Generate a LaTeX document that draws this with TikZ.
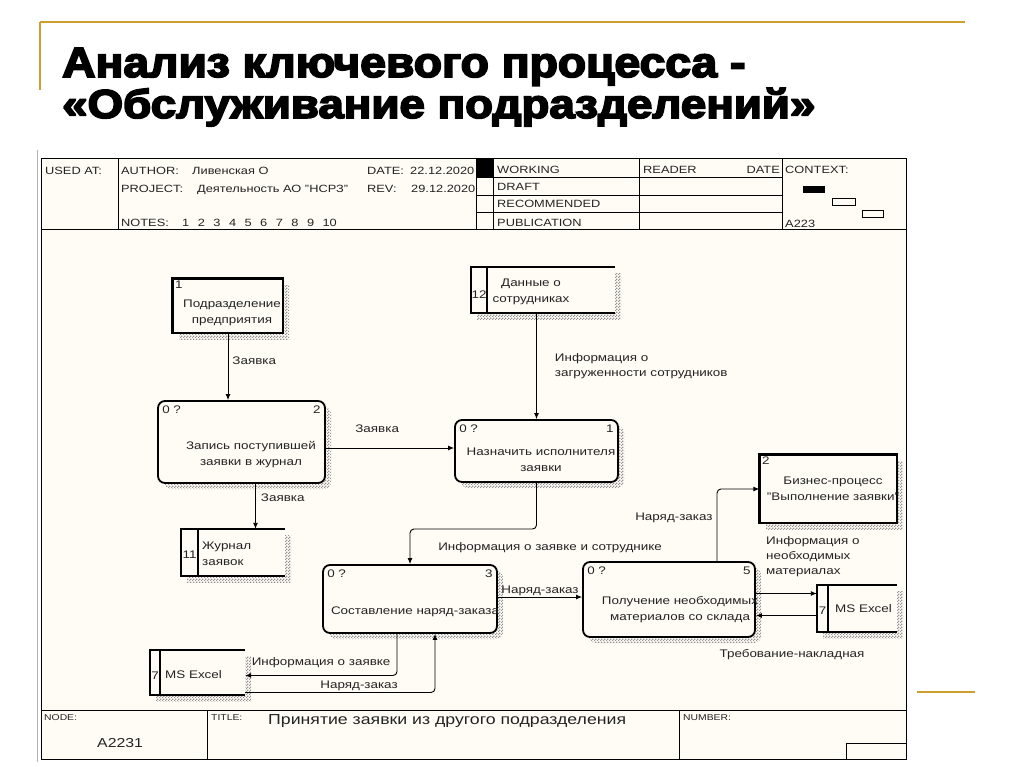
\documentclass[tikz,border=0pt]{standalone}
\usepackage{fontspec}
\setmainfont{Liberation Sans}[FakeStretch=1.22]
\newfontfamily\titlefont{Liberation Sans}[FakeBold=4]
\usetikzlibrary{arrows.meta,patterns,shadows,positioning,calc}
\definecolor{paper}{RGB}{255,252,246}
\definecolor{gold}{RGB}{205,160,45}
\definecolor{ink}{RGB}{35,35,35}

% fine checker used for the box shadows
\pgfdeclarepatternformonly{finecheck}{\pgfqpoint{0pt}{0pt}}{\pgfqpoint{3pt}{3pt}}{\pgfqpoint{3pt}{3pt}}{%
  \pgfpathrectangle{\pgfqpoint{0pt}{0pt}}{\pgfqpoint{1.5pt}{1.5pt}}%
  \pgfpathrectangle{\pgfqpoint{1.5pt}{1.5pt}}{\pgfqpoint{1.5pt}{1.5pt}}%
  \pgfusepath{fill}}

\tikzset{
  hatch/.style={drop shadow={shadow xshift=6pt, shadow yshift=-6pt, opacity=1, pattern=finecheck, pattern color=gray!85}},
  act/.style={draw=black, line width=1.8pt, rounded corners=7pt, fill=paper, hatch, inner sep=0},
  ent/.style={draw=black, line width=1.3pt, fill=paper, hatch, inner sep=0},
  store/.style={fill=paper, hatch, inner sep=0},
  boxtext/.style={align=center, inner sep=0, font=\fontsize{11}{16}\selectfont},
  num/.style={inner sep=2.5pt, font=\fontsize{11}{13}\selectfont},
  actnum/.style={inner sep=0, font=\fontsize{11}{13}\selectfont},
  lbl/.style={inner sep=1pt, font=\fontsize{11}{15}\selectfont},
  hd/.style={anchor=base west, inner sep=0, font=\fontsize{10.5}{12}\selectfont},
  flow/.style={draw=black, line width=0.9pt, -{Latex[length=6pt,width=5pt]}}
}
% open-ended data store: #1 node, #2 offset of the inner bar
\newcommand\storelines[2]{%
  \draw[line width=1.6pt] (#1.north east) -- (#1.north west) -- (#1.south west) -- (#1.south east);
  \draw[line width=1.6pt] ([xshift=#2]#1.north west) -- ([xshift=#2]#1.south west);}

\begin{document}
\begin{tikzpicture}[x=1pt,y=-1pt, text=ink]
\useasboundingbox (0,0) rectangle (1024,767);
\fill[white] (0,0) rectangle (1024,767);

% slide decoration and title
\draw[gold, line width=2pt] (40,22) -- (965,22);
\draw[gold, line width=2pt] (40,22) -- (40,90);
\draw[gold, line width=2pt] (917,692) -- (975,692);
\node[anchor=base west, inner sep=0, text=black] (ttl1) at (62,77)
  {\resizebox{683pt}{29pt}{\titlefont\bfseries Анализ ключевого процесса -}};
\node[anchor=base west, inner sep=0, text=black] (ttl2) at (62,118)
  {\resizebox{753pt}{30pt}{\titlefont\bfseries «Обслуживание подразделений»}};

% frame
\draw[gray!60, line width=1pt] (37,150) -- (37,762);
\fill[paper] (41,159) rectangle (906,759);
\draw[line width=1pt] (41,159) rectangle (906,759);
\draw (41,229) -- (906,229);
\foreach \x in {118,476,493,639,782} \draw (\x,159) -- (\x,229);
\foreach \y in {177,195,212} \draw (476,\y) -- (782,\y);
\draw (41,710) -- (906,710);
\draw (207,710) -- (207,759);
\draw (679,710) -- (679,759);
\draw (846,743) rectangle (906,759);

% header
\node[hd] (usedat) at (45,175) {USED AT:};
\node[hd] (author) at (121,175) {AUTHOR:};
\node[hd] (authorv) at (192,175) {Ливенская О};
\node[hd] (date) at (367,175) {DATE:};
\node[hd] (datev) at (410,175) {22.12.2020};
\node[hd] (project) at (121,193) {PROJECT:};
\node[hd] (projectv) at (197,193) {Деятельность АО "НСРЗ"};
\node[hd] (rev) at (367,193) {REV:};
\node[hd] (revv) at (411,193) {29.12.2020};
\node[hd] (notes) at (121,226) {NOTES:};
\foreach \n [count=\i] in {1,...,10}
  \node[hd] (note\n) at ({182+15.6*(\i-1)},226) {\n};
\fill (476,159) rectangle (493,177);
\node[hd] (working) at (497,174) {WORKING};
\node[hd] (draft) at (497,191) {DRAFT};
\node[hd] (recom) at (497,208) {RECOMMENDED};
\node[hd] (publ) at (497,226) {PUBLICATION};
\node[hd] (reader) at (643,174) {READER};
\node[hd, anchor=base east] (rdate) at (780,174) {DATE};
\node[hd] (context) at (785,174) {CONTEXT:};
\node[hd] (ctxnode) at (785,227) {A223};
\fill (803,186) rectangle (825,193);
\draw (832,198) rectangle (855,205);
\draw (862,210) rectangle (883,217);

% footer
\node[anchor=west, inner sep=0, font=\fontsize{8.5}{10}\selectfont] (fnode) at (44,718) {NODE:};
\node[anchor=west, inner sep=0, font=\fontsize{13}{15}\selectfont] (fnodev) at (97,743) {A2231};
\node[anchor=west, inner sep=0, font=\fontsize{8.5}{10}\selectfont] (ftitle) at (211,718) {TITLE:};
\node[anchor=west, inner sep=0, font=\fontsize{14.5}{16}\selectfont] (ftitlev) at (268,721) {Принятие заявки из другого подразделения};
\node[anchor=west, inner sep=0, font=\fontsize{8.5}{10}\selectfont] (fnumber) at (683,718) {NUMBER:};

% external entities
\node[ent, minimum width=110pt, minimum height=54pt] (e1) at (228,306) {};
\draw[line width=3.5pt] (e1.south west) -- (e1.north west) -- (e1.north east);
\node[num, anchor=north west] (e1n) at (e1.north west) {1};
\node[boxtext] (e1t) at (232,313) {Подразделение\\предприятия};

\node[ent, minimum width=137pt, minimum height=68pt] (e2) at (828.5,489) {};
\draw[line width=3.5pt] (e2.south west) -- (e2.north west) -- (e2.north east);
\node[num, anchor=north west] (e2n) at (e2.north west) {2};
\node[boxtext] (e2t) at (833,489) {Бизнес-процесс\\"Выполнение заявки"};

% data stores
\node[store, minimum width=144pt, minimum height=46pt] (s12) at (543,290) {};
\storelines{s12}{16pt}
\node[num, inner sep=0] (s12n) at (479,295) {12};
\node[boxtext] (s12t) at (531,292) {Данные о\\сотрудниках};

\node[store, minimum width=104pt, minimum height=47pt] (s11) at (233,552.5) {};
\storelines{s11}{17pt}
\node[num, inner sep=0] (s11n) at (189.5,555) {11};
\node[boxtext, align=left, anchor=west] (s11t) at (202,554) {Журнал\\заявок};

\node[store, minimum width=95pt, minimum height=45pt] (s7l) at (197.5,672.5) {};
\storelines{s7l}{10pt}
\node[num, inner sep=0] (s7ln) at (155,676) {7};
\node[boxtext, anchor=west] (s7lt) at (165,675) {MS Excel};

\node[store, minimum width=80pt, minimum height=47pt] (s7r) at (857,608.5) {};
\storelines{s7r}{11pt}
\node[num, inner sep=0] (s7rn) at (822.5,611) {7};
\node[boxtext, anchor=west] (s7rt) at (835,609) {MS Excel};

% activities
\node[act, minimum width=167pt, minimum height=82pt] (a2) at (241.5,442) {};
\node[actnum, anchor=north west] (a2z) at ([shift={(5pt,-6pt)}]a2.north west) {0 ?};
\node[actnum, anchor=north east] (a2n) at ([shift={(-5pt,-6pt)}]a2.north east) {2};
\node[boxtext] (a2t) at (251,455) {Запись поступившей\\заявки в журнал};

\node[act, minimum width=163pt, minimum height=62pt] (a1) at (536.5,451) {};
\node[actnum, anchor=north west] (a1z) at ([shift={(5pt,-6pt)}]a1.north west) {0 ?};
\node[actnum, anchor=north east] (a1n) at ([shift={(-5pt,-6pt)}]a1.north east) {1};
\node[boxtext] (a1t) at (541,460) {Назначить исполнителя\\заявки};

\node[act, minimum width=174pt, minimum height=68pt] (a3) at (410,599) {};
\node[actnum, anchor=north west] (a3z) at ([shift={(5pt,-6pt)}]a3.north west) {0 ?};
\node[actnum, anchor=north east] (a3n) at ([shift={(-5pt,-6pt)}]a3.north east) {3};
\node[boxtext] (a3t) at (415,612) {Составление наряд-заказа};

\node[act, minimum width=172pt, minimum height=75pt] (a5) at (669,599.5) {};
\node[actnum, anchor=north west] (a5z) at ([shift={(5pt,-6pt)}]a5.north west) {0 ?};
\node[actnum, anchor=north east] (a5n) at ([shift={(-5pt,-6pt)}]a5.north east) {5};
\node[boxtext] (a5t) at (680,610) {Получение необходимых\\материалов со склада};

% connectors
\draw[flow] (e1.south) -- (e1.south |- a2.north) node[lbl, right=3pt, pos=0.4] (l1) {Заявка};
\draw[flow] ([yshift=-6pt]a2.east) coordinate (c1) -- (c1 -| a1.west)
  node[lbl, above=14pt, pos=0.4] (l2) {Заявка};
\draw[flow] (a1.north |- s12.south) -- (a1.north)
  node[lbl, right=17pt, midway, align=left] (l3) {Информация о\\загруженности сотрудников};
\draw[flow] ([xshift=14pt]a2.south) coordinate (c2) -- (c2 |- s11.north)
  node[lbl, right=4pt, pos=0.3] (l4) {Заявка};
\draw[flow, rounded corners=4pt] (a1.south) -- (a1.south |- 0,529) -| (a3.north);
\node[lbl] (l5) at (550,548) {Информация о заявке и сотруднике};
\draw[flow] ([yshift=2pt]a3.east) coordinate (c3) -- (c3 -| a5.west)
  node[lbl, above, midway, inner sep=0.5pt] (l6) {Наряд-заказ};
\draw[flow, rounded corners=4pt] ([xshift=48pt]a5.north) |- (e2.west)
  node[lbl, left=3pt, pos=0.3] (l7) {Наряд-заказ};
\draw[flow] ([yshift=6pt]a5.east) coordinate (c4) -- (c4 -| s7r.west);
\node[lbl, align=left, anchor=south west] (l8) at (765,578) {Информация о\\необходимых\\материалах};
\draw[flow] ([yshift=-7pt]s7r.west) coordinate (c5) -- (c5 -| a5.east);
\node[lbl] (l9) at (792,655) {Требование-накладная};
\draw[flow, rounded corners=4pt] ([xshift=-13pt]a3.south) |- ([yshift=-3pt]s7l.east)
  node[lbl, above=6pt, pos=0.75] (l10) {Информация о заявке};
\draw[flow, rounded corners=4pt] ([yshift=-20pt]s7l.east) -| ([xshift=25pt]a3.south)
  node[lbl, above, pos=0.3] (l11) {Наряд-заказ};
\end{tikzpicture}
\end{document}
